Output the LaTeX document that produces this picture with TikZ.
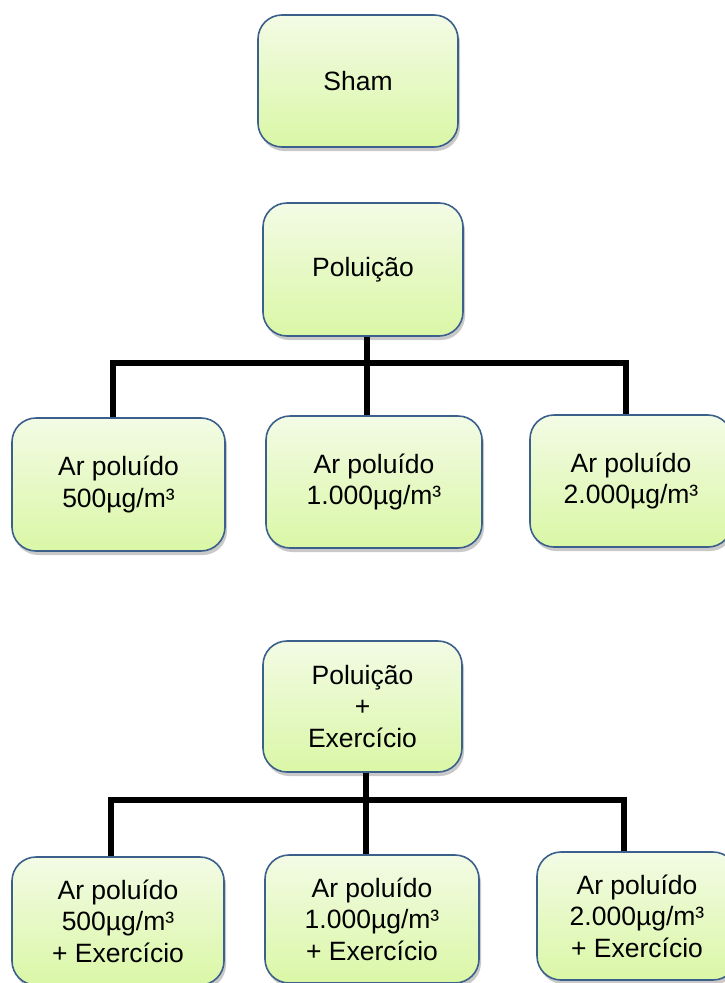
\documentclass[tikz,border=0pt]{standalone}
\usepackage{fontspec}
\setmainfont{Liberation Sans}
\usetikzlibrary{shadows}
\definecolor{boxline}{RGB}{60,96,140}
\definecolor{boxtop}{RGB}{243,251,229}
\definecolor{boxbot}{RGB}{218,247,166}
\tikzset{
  box/.style={draw=boxline, line width=1.6pt, rounded corners=24pt,
    top color=boxtop, bottom color=boxbot, align=center, inner sep=0pt,
    font=\fontsize{26.5}{31.5}\selectfont,
    drop shadow={shadow xshift=2pt, shadow yshift=-4pt, opacity=0.3, fill=black!70}},
  link/.style={line width=5.5pt, draw=black, line join=miter}
}
\begin{document}
\begin{tikzpicture}[x=1pt,y=-1pt]
\useasboundingbox (0,0) rectangle (724,983);
% top groups
\node[box, minimum width=200pt, minimum height=132pt] (sham) at (358,81) {Sham};
\node[box, minimum width=200pt, minimum height=133pt] (pol) at (363,269.5) {Poluição};
\node[box, minimum width=213pt, minimum height=133pt] (a1) at (118.5,484.5) {Ar poluído\\500µg/m³};
\node[box, minimum width=216pt, minimum height=132pt] (a2) at (374,482) {Ar poluído\\1.000µg/m³};
\node[box, minimum width=202pt, minimum height=132pt] (a3) at (631,481) {Ar poluído\\2.000µg/m³};
% exercise group
\node[box, minimum width=199pt, minimum height=131pt] (pe) at (362.5,706.5) {Poluição\\+\\Exercício};
\node[box, minimum width=212pt, minimum height=128pt] (b1) at (118,921) {Ar poluído\\500µg/m³\\+ Exercício};
\node[box, minimum width=214pt, minimum height=128pt] (b2) at (372,919) {Ar poluído\\1.000µg/m³\\+ Exercício};
\node[box, minimum width=200pt, minimum height=128pt] (b3) at (637,916) {Ar poluído\\2.000µg/m³\\+ Exercício};
% connectors row 1
\coordinate (c1l) at (113,363);
\coordinate (c1r) at (626,363);
\draw[link] (c1l |- a1.north) -- (c1l) -- (c1r) -- (c1r |- a3.north);
\draw[link] ([xshift=4pt]pol.south) -- ([xshift=4pt]pol.south |- a2.north);
% connectors row 2
\coordinate (c2l) at (111,800);
\coordinate (c2r) at (624,800);
\draw[link] (c2l |- b1.north) -- (c2l) -- (c2r) -- (c2r |- b3.north);
\draw[link] ([xshift=3.5pt]pe.south) -- ([xshift=3.5pt]pe.south |- b2.north);
\end{tikzpicture}
\end{document}
